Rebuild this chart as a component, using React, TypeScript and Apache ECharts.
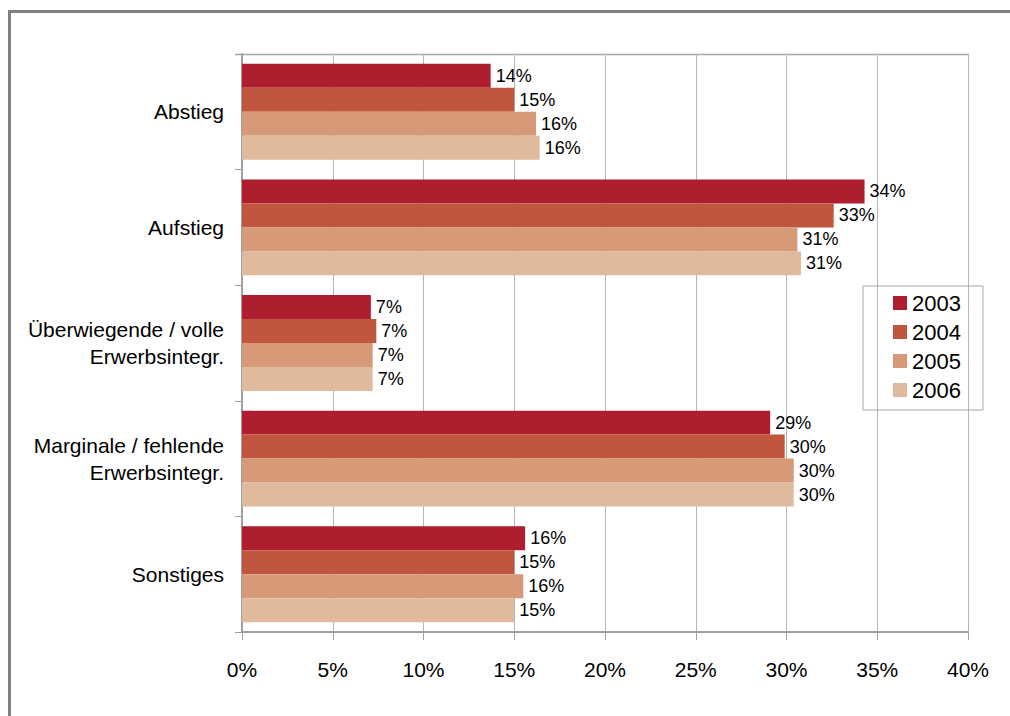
import React, { useEffect, useRef } from "react";
import * as echarts from "echarts";

const categories = [
  "Abstieg",
  "Aufstieg",
  "Überwiegende / volle\nErwerbsintegr.",
  "Marginale / fehlende\nErwerbsintegr.",
  "Sonstiges",
];
const years = ["2003", "2004", "2005", "2006"];
const values2003 = [13.7, 34.3, 7.1, 29.1, 15.6];
const values2004 = [15.0, 32.6, 7.4, 29.9, 15.0];
const values2005 = [16.2, 30.6, 7.2, 30.4, 15.5];
const values2006 = [16.4, 30.8, 7.2, 30.4, 15.0];
const colors = ["#AE1E2E", "#C1563F", "#D79A78", "#DFBA9C"];
const xTicks = [0, 5, 10, 15, 20, 25, 30, 35, 40];

const FONT = "'Liberation Sans', Arial, sans-serif";

export default function App() {
  const ref = useRef<HTMLDivElement>(null);
  useEffect(() => {
    if (!ref.current) return;
    const chart = echarts.init(ref.current, undefined, { renderer: "svg" });
    const seriesData = [values2003, values2004, values2005, values2006];
    chart.setOption({
      animation: false,
      backgroundColor: "#ffffff",
      textStyle: { fontFamily: FONT },
      grid: { left: 242, right: 42, top: 54, bottom: 84, containLabel: false },
      legend: {
        orient: "vertical",
        left: 863,
        top: 286,
        data: years,
        itemWidth: 14,
        itemHeight: 14,
        itemGap: 7,
        icon: "rect",
        borderColor: "#a6a6a6",
        borderWidth: 1,
        padding: [6, 22, 9, 30],
        textStyle: { fontSize: 22, lineHeight: 22, color: "#000", fontFamily: FONT },
      },
      xAxis: {
        type: "value",
        min: 0,
        max: 40,
        interval: 5,
        axisLine: { show: true, lineStyle: { color: "#a0a0a0", width: 2 } },
        axisTick: { show: true, length: 8, lineStyle: { color: "#a0a0a0" } },
        splitLine: { show: true, lineStyle: { color: "#b5b5b5", width: 1 } },
        axisLabel: {
          fontSize: 21,
          color: "#000",
          margin: 27,
          fontFamily: FONT,
          formatter: (v: number) => (xTicks.includes(v) ? v + "%" : ""),
        },
      },
      yAxis: {
        type: "category",
        data: categories,
        inverse: true,
        axisLine: { show: true, lineStyle: { color: "#a0a0a0", width: 2 } },
        axisTick: { show: true, length: 7, lineStyle: { color: "#a0a0a0" } },
        axisLabel: {
          fontSize: 21,
          color: "#000",
          margin: 18,
          lineHeight: 27,
          align: "right",
          fontFamily: FONT,
        },
      },
      graphic: [
        {
          type: "rect",
          shape: { x: 9.5, y: 11.5, width: 1200, height: 900 },
          style: { fill: "none", stroke: "#808080", lineWidth: 3 },
          silent: true,
        },
        {
          type: "line",
          shape: { x1: 235, y1: 54.5, x2: 969, y2: 54.5 },
          style: { stroke: "#a6a6a6", lineWidth: 1.5 },
          silent: true,
        },
      ],
      series: years.map((y, i) => ({
        name: y,
        type: "bar",
        data: seriesData[i],
        barGap: "0%",
        barCategoryGap: "17%",
        itemStyle: { color: colors[i] },
        label: {
          show: true,
          position: "right",
          distance: 5,
          fontSize: 18,
          color: "#000",
          fontFamily: FONT,
          formatter: (p: any) => Math.round(p.value) + "%",
        },
      })),
    });
    return () => chart.dispose();
  }, []);
  return (
    <div
      ref={ref}
      style={{ position: "absolute", left: 0, top: 0, width: 1010, height: 716 }}
    />
  );
}
